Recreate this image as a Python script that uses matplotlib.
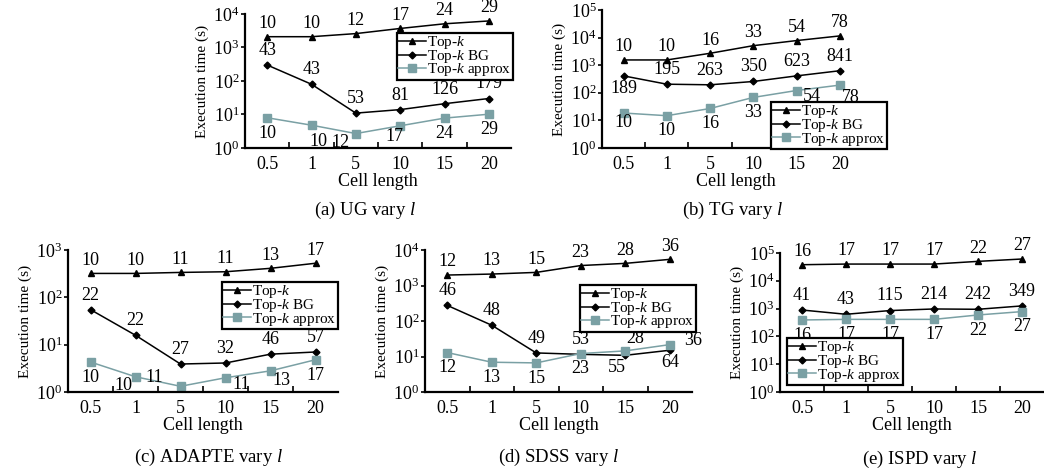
import matplotlib
matplotlib.use("Agg")
from matplotlib import pyplot as plt
from matplotlib.ticker import FixedLocator, LogFormatterSciNotation

plt.rcParams['font.family'] = 'Liberation Serif'
plt.rcParams['mathtext.fontset'] = 'custom'
plt.rcParams['mathtext.rm'] = 'Liberation Serif'
plt.rcParams['mathtext.it'] = 'Liberation Serif:italic'

# x categories shared by every panel
CELL_LENGTHS = ['0.5', '1', '5', '10', '15', '20']

# (a) UG
UG_TOPK = [2100, 2100, 2600, 3700, 5100, 6200]
UG_BG = [300, 80, 11, 14, 21, 30]
UG_APPROX = [8, 4.8, 2.7, 4.6, 7.8, 10.2]
UG_LBL_TOPK = [10, 10, 12, 17, 24, 29]
UG_LBL_BG = [43, 43, 53, 81, 126, 179]

# (b) TG
TG_TOPK = [1550, 1550, 2700, 5100, 7800, 11500]
TG_BG = [410, 205, 195, 257, 410, 630]
TG_APPROX = [18.5, 14.8, 27, 68, 121, 190]
TG_LBL_TOPK = [10, 10, 16, 33, 54, 78]
TG_LBL_BG = [189, 195, 263, 350, 623, 841]

# (c) ADAPTE
AD_TOPK = [320, 320, 336, 347, 410, 525]
AD_BG = [55, 15.8, 3.9, 4.1, 6.3, 7.0]
AD_APPROX = [4.3, 2.1, 1.32, 2.0, 2.8, 4.8]
AD_LBL_TOPK = [10, 10, 11, 11, 13, 17]
AD_LBL_BG = [22, 22, 27, 32, 46, 57]

# (d) SDSS
SD_TOPK = [1970, 2100, 2340, 3650, 4200, 5450]
SD_BG = [275, 76, 12.6, 11.5, 10.8, 15]
SD_APPROX = [12.9, 6.9, 6.6, 12.1, 14.4, 21.6]
SD_LBL_TOPK = [12, 13, 15, 23, 28, 36]
SD_LBL_BG = [46, 48, 49, 53, 55, 64]

# (e) ISPD
IS_TOPK = [37900, 40000, 40000, 40000, 50000, 60800]
IS_BG = [890, 625, 850, 970, 945, 1250]
IS_APPROX = [390, 410, 410, 410, 590, 780]
IS_LBL_TOPK = [16, 17, 17, 17, 22, 27]
IS_LBL_BG = [41, 43, 115, 214, 242, 349]

TITLES = ['(a) UG vary $l$', '(b) TG vary $l$', '(c) ADAPTE vary $l$',
          '(d) SDSS vary $l$', '(e) ISPD vary $l$']
YMAX_EXP = [4, 5, 3, 4, 5]

W, H = 1044, 471
# axes box in pixels: left, top, right, bottom ; legend top-left ; title center
LAYOUT = [
    ((245, 14, 511, 148), (397, 33), (365, 210)),
    ((602, 10, 870, 148), (771, 102), (733, 210)),
    ((68, 250, 338, 392), (222, 282), (208, 457)),
    ((425, 250, 692, 392), (580, 285), (558, 457)),
    ((780, 253, 1044, 392), (787, 338), (920, 459)),
]

# label offsets (points) that differ from the default
OFFSETS = {
    (0, 'approx', 1): (5, -12),
    (0, 'approx', 2): (-11, -6.5),
    (0, 'approx', 3): (-4, -8),
    (1, 'bg', 0): (0, -9),
    (1, 'approx', 0): (0, -7),
    (1, 'approx', 4): (11, -4),
    (1, 'approx', 5): (8, -9),
    (2, 'approx', 1): (-9, -6),
    (2, 'approx', 2): (-19, 6),
    (2, 'approx', 3): (11, -4.5),
    (2, 'approx', 4): (8, -7),
    (3, 'bg', 4): (-6, -9),
    (3, 'bg', 5): (0, -9),
    (3, 'approx', 4): (7, 9),
    (3, 'approx', 5): (17, 3),
}

TEAL = '#7aa0a4'

panels = [
    (UG_TOPK, UG_BG, UG_APPROX, UG_LBL_TOPK, UG_LBL_BG),
    (TG_TOPK, TG_BG, TG_APPROX, TG_LBL_TOPK, TG_LBL_BG),
    (AD_TOPK, AD_BG, AD_APPROX, AD_LBL_TOPK, AD_LBL_BG),
    (SD_TOPK, SD_BG, SD_APPROX, SD_LBL_TOPK, SD_LBL_BG),
    (IS_TOPK, IS_BG, IS_APPROX, IS_LBL_TOPK, IS_LBL_BG),
]

fig = plt.figure(figsize=(W / 100, H / 100), dpi=100)

for p, (topk, bg, approx, lbl_topk, lbl_bg) in enumerate(panels):
    (l, t, r, b), (lx, ly), (tx, ty) = LAYOUT[p]
    ax = fig.add_axes([l / W, 1 - b / H, (r - l) / W, (b - t) / H])
    xs = list(range(len(CELL_LENGTHS)))
    ncat = len(CELL_LENGTHS)
    # panel (b) has a slightly longer x axis past the last category
    ax.set_xlim(-0.5, ncat - 0.5 + (0.2 if p == 1 else 0))

    ax.plot(xs, topk, color='black', lw=1.1, marker='^', ms=5, label='Top-$k$')
    ax.plot(xs, bg, color='black', lw=1.1, marker='D', ms=3.5, label='Top-$k$ BG')
    ax.plot(xs, approx, color=TEAL, lw=1.1, marker='s', ms=5.5, label='Top-$k$ approx')

    for name, vals, lbls, dflt in (('topk', topk, lbl_topk, (0, 9.5)),
                                   ('bg', bg, lbl_bg, (0, 10.5)),
                                   ('approx', approx, lbl_topk, (0, -11))):
        for i, (v, s) in enumerate(zip(vals, lbls)):
            off = OFFSETS.get((p, name, i), dflt)
            ax.annotate(str(s), (i, v), xytext=off, textcoords='offset points',
                        ha='center', va='center', fontsize=13, annotation_clip=False)

    ax.set_yscale('log')
    ax.set_ylim(1, 10 ** YMAX_EXP[p])
    ax.yaxis.set_major_locator(FixedLocator([10 ** e for e in range(YMAX_EXP[p] + 1)]))
    ax.yaxis.set_major_formatter(LogFormatterSciNotation())
    ax.yaxis.set_minor_locator(FixedLocator([]))
    ax.set_xticks(xs)
    ax.set_xticklabels(CELL_LENGTHS)
    ax.set_xticks([i + 0.5 for i in xs[:-1]], minor=True)

    ax.tick_params(axis='x', which='major', length=0, pad=6, labelsize=13)
    ax.tick_params(axis='x', which='minor', direction='in', length=4, width=1.2)
    ax.tick_params(axis='y', which='major', direction='out', length=3, width=1.2,
                   pad=1, labelsize=13)
    for side in ('top', 'right'):
        ax.spines[side].set_visible(False)
    for side in ('left', 'bottom'):
        ax.spines[side].set_linewidth(1.6)

    ax.set_xlabel('Cell length', fontsize=13, labelpad=0)
    ax.set_ylabel('Execution time (s)', fontsize=11, labelpad=3)

    leg = ax.legend(loc='upper left', bbox_to_anchor=(lx / W, 1 - ly / H),
                    bbox_transform=fig.transFigure, borderaxespad=0,
                    fontsize=11, frameon=True, fancybox=False, numpoints=1,
                    labelspacing=-0.22, borderpad=0.08, handlelength=1.8,
                    handletextpad=0.1)
    leg.get_frame().set_edgecolor('black')
    leg.get_frame().set_linewidth(1.6)
    leg.get_frame().set_alpha(1)

    fig.text(tx / W, 1 - ty / H, TITLES[p], ha='center', va='center', fontsize=13.5)

fig.savefig('out.png', dpi=100)
